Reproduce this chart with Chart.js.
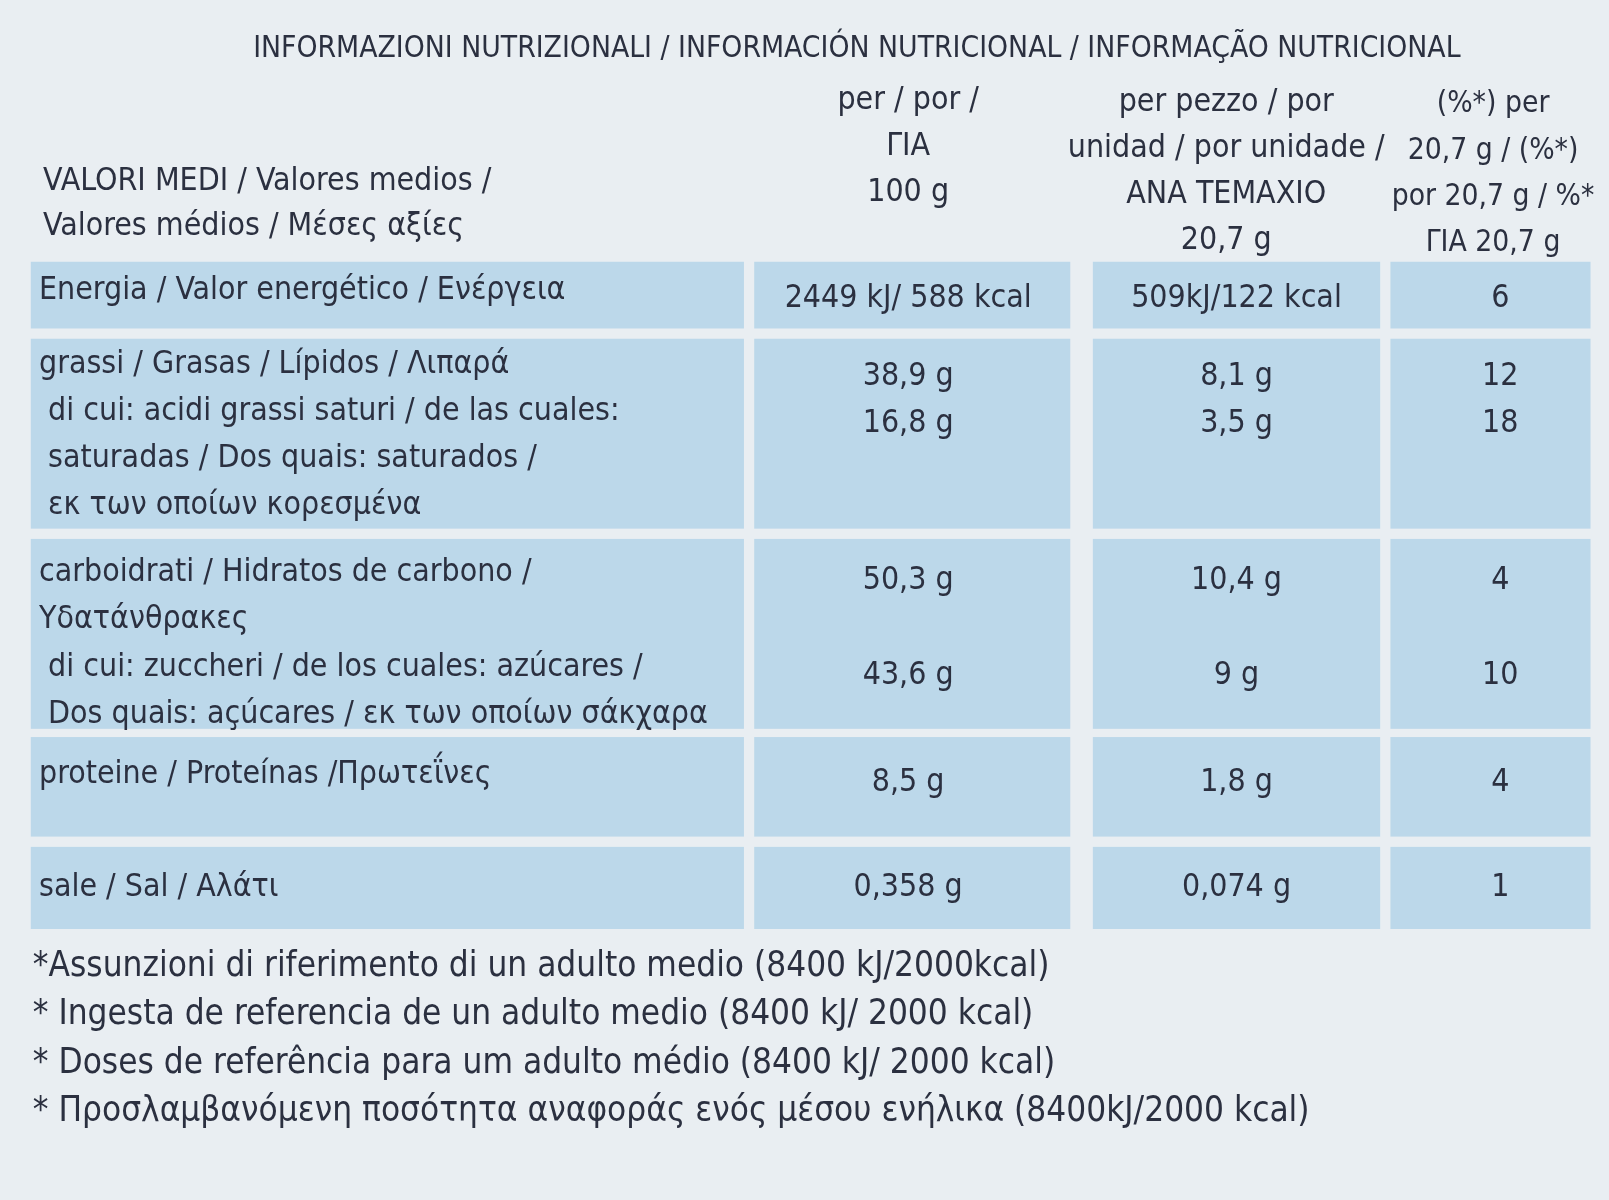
<!DOCTYPE html>
<html><head><meta charset="utf-8">
<script src="https://cdn.jsdelivr.net/npm/chart.js@4"></script>
<style>html,body{margin:0;padding:0;background:#e9eef2;}#w{width:1609px;height:1200px;}</style>
</head><body><div id="w"><canvas id="c"></canvas></div>
<script>
const title = "INFORMAZIONI NUTRIZIONALI / INFORMACIÓN NUTRICIONAL / INFORMAÇÃO NUTRICIONAL";
const headerLabel = ["VALORI MEDI / Valores medios /", "Valores médios / Μέσες αξίες"];
const headerPer100 = ["per / por /", "ΓΙΑ", "100 g"];
const headerPerPiece = ["per pezzo / por", "unidad / por unidade /", "ΑΝΑ ΤΕΜΑΧΙΟ", "20,7 g"];
const headerPct = ["(%*) per", "20,7 g / (%*)", "por 20,7 g / %*", "ΓΙΑ 20,7 g"];
const rowLabels = [
  ["Energia / Valor energético / Ενέργεια"],
  ["grassi / Grasas / Lípidos / Λιπαρά", " di cui: acidi grassi saturi / de las cuales:", " saturadas / Dos quais: saturados /", " εκ των οποίων κορεσμένα"],
  ["carboidrati / Hidratos de carbono /", "Υδατάνθρακες", " di cui: zuccheri / de los cuales: azúcares /", " Dos quais: açúcares / εκ των οποίων σάκχαρα"],
  ["proteine / Proteínas /Πρωτεΐνες"],
  ["sale / Sal / Αλάτι"]
];
const per100 = [["2449 kJ/ 588 kcal"], ["38,9 g", "16,8 g"], ["50,3 g", "", "43,6 g"], ["8,5 g"], ["0,358 g"]];
const perPiece = [["509kJ/122 kcal"], ["8,1 g", "3,5 g"], ["10,4 g", "", "9 g"], ["1,8 g"], ["0,074 g"]];
const pctRI = [["6"], ["12", "18"], ["4", "", "10"], ["4"], ["1"]];
const footnotes = [
  "*Assunzioni di riferimento di un adulto medio (8400 kJ/2000kcal)",
  "* Ingesta de referencia de un adulto medio (8400 kJ/ 2000 kcal)",
  "* Doses de referência para um adulto médio (8400 kJ/ 2000 kcal)",
  "* Προσλαμβανόμενη ποσότητα αναφοράς ενός μέσου ενήλικα (8400kJ/2000 kcal)"
];
// layout (reference units)
const colBounds = [[30,725],[735,1043],[1065,1345],[1355,1550]];
const rowBounds = [[255,320],[330,515],[525,710],[718,815],[825,905]];
const rowFirstLine = [283,355,558,755,865];
const valShift = [8,12,8,8,0];
const lineGap = 46;

const tablePlugin = {
  id:'table',
  beforeDatasetsDraw(chart){
    const ctx = chart.ctx, X = chart.scales.x, Y = chart.scales.y;
    const px = v => X.getPixelForValue(v), py = v => Y.getPixelForValue(v);
    const k = (px(1568)-px(0))/1568;
    ctx.save();
    ctx.fillStyle = '#e9eef2'; ctx.fillRect(0,0,chart.width,chart.height);
    ctx.fillStyle = '#bcd8ea';
    rowBounds.forEach(r => colBounds.forEach(c => {
      ctx.fillRect(px(c[0]), py(r[0]), px(c[1])-px(c[0]), py(r[1])-py(r[0]));
    }));
    const font = s => `${s*k}px "DejaVu Sans Condensed", "Liberation Sans Narrow", sans-serif`;
    ctx.fillStyle = '#2b3040'; ctx.textBaseline = 'middle';
    ctx.font = font(29); ctx.textAlign = 'center';
    ctx.fillText(title, px(835), py(48));
    ctx.font = font(31);
    ctx.textAlign = 'left';
    headerLabel.forEach((t,i)=>ctx.fillText(t, px(42), py(177+i*44)));
    ctx.textAlign = 'center';
    headerPer100.forEach((t,i)=>ctx.fillText(t, px(885), py(98+i*45)));
    headerPerPiece.forEach((t,i)=>ctx.fillText(t, px(1195), py(100+i*45)));
    ctx.font = font(29);
    headerPct.forEach((t,i)=>ctx.fillText(t, px(1455), py(102+i*45)));
    ctx.font = font(31);
    rowLabels.forEach((lines,r)=>{
      lines.forEach((t,i)=>{
        ctx.textAlign='left'; ctx.fillText(t, px(38), py(rowFirstLine[r]+i*lineGap));
      });
      ctx.textAlign='center';
      const shift = valShift[r];
      per100[r].forEach((t,i)=>ctx.fillText(t, px(885), py(rowFirstLine[r]+shift+i*lineGap)));
      perPiece[r].forEach((t,i)=>ctx.fillText(t, px(1205), py(rowFirstLine[r]+shift+i*lineGap)));
      pctRI[r].forEach((t,i)=>ctx.fillText(t, px(1462), py(rowFirstLine[r]+shift+i*lineGap)));
    });
    ctx.textAlign='left'; ctx.font = font(34);
    footnotes.forEach((t,i)=>ctx.fillText(t, px(32), py(942+i*47)));
    ctx.restore();
  }
};
new Chart(document.getElementById('c'), {
  type:'scatter',
  data:{datasets:[{data:[], pointRadius:0}]},
  options:{responsive:true, maintainAspectRatio:false, animation:false,
    layout:{padding:0},
    plugins:{legend:{display:false}, tooltip:{enabled:false}},
    scales:{x:{type:'linear',min:0,max:1568,display:false},
            y:{type:'linear',min:0,max:1169,reverse:true,display:false}}},
  plugins:[tablePlugin]
});
</script></body></html>
